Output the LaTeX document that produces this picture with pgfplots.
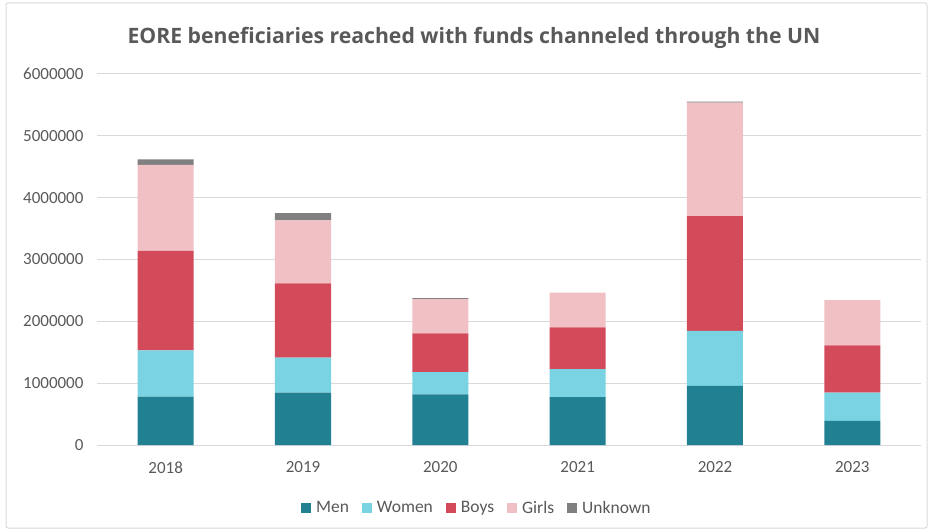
\documentclass[border=0pt]{standalone}
\usepackage{pgfplots}
\pgfplotsset{compat=1.18}
\usepackage{fontspec}
\setmainfont{Carlito}
\newfontfamily\titlefont{Open Sans}
\definecolor{cmen}{HTML}{218092}
\definecolor{cwomen}{HTML}{7AD3E3}
\definecolor{cboys}{HTML}{D34A5A}
\definecolor{cgirls}{HTML}{F0C0C4}
\definecolor{cunk}{HTML}{808080}
\definecolor{txt}{HTML}{595959}
\definecolor{gridc}{HTML}{D9D9D9}
\begin{document}
\begin{tikzpicture}
\path[use as bounding box] (0pt,0pt) rectangle (930pt,531pt);
\draw[gridc, line width=1pt, rounded corners=2pt] (6pt,3pt) rectangle (927pt,528pt);
\node[txt, font=\titlefont\fontsize{21.2}{24}\selectfont\bfseries] at (474pt,493pt) {EORE beneficiaries reached with funds channeled through the UN};
\begin{axis}[
  at={(97pt,86pt)}, anchor=south west,
  scale only axis, width=824pt, height=371pt,
  ybar stacked, bar width=56pt,
  xmin=-0.5, xmax=5.5, ymin=0, ymax=6000000,
  xtick={0,1,2,3,4,5},
  xticklabels={2018,2019,2020,2021,2022,2023},
  ytick={0,1000000,2000000,3000000,4000000,5000000,6000000},
  yticklabels={0,1000000,2000000,3000000,4000000,5000000,6000000},
  scaled y ticks=false,
  ymajorgrids, xmajorgrids=false, grid style={gridc, line width=1pt},
  axis lines*=left,
  x axis line style={gridc, line width=1pt},
  y axis line style={draw=none},
  major tick length=0pt,
  tick label style={txt, font=\fontsize{17}{19}\selectfont},
  yticklabel style={xshift=-10pt},
  xticklabel style={yshift=-13pt},
  legend style={at={(0.461,-0.169)}, anchor=center, draw=none, legend columns=5,
    font=\fontsize{17.5}{19}\selectfont, text=txt,
    /tikz/every odd column/.append style={column sep=3pt},
    /tikz/every even column/.append style={column sep=11pt}},
  legend image code/.code={\fill[#1] (0pt,-5pt) rectangle (10pt,5pt);},
  every axis plot/.append style={draw=none},
]
\addplot[fill=cmen] coordinates {(0,784000) (1,849000) (2,817000) (3,774000) (4,958000) (5,390000)};
\addplot[fill=cwomen] coordinates {(0,746000) (1,563000) (2,363000) (3,455000) (4,888000) (5,459000)};
\addplot[fill=cboys] coordinates {(0,1610000) (1,1200000) (2,627000) (3,674000) (4,1856000) (5,763000)};
\addplot[fill=cgirls] coordinates {(0,1390000) (1,1020000) (2,553000) (3,563000) (4,1835000) (5,731000)};
\addplot[fill=cunk] coordinates {(0,90000) (1,120000) (2,15000) (3,0) (4,15000) (5,0)};
\legend{Men,Women,Boys,Girls,Unknown}
\end{axis}
\end{tikzpicture}
\end{document}
